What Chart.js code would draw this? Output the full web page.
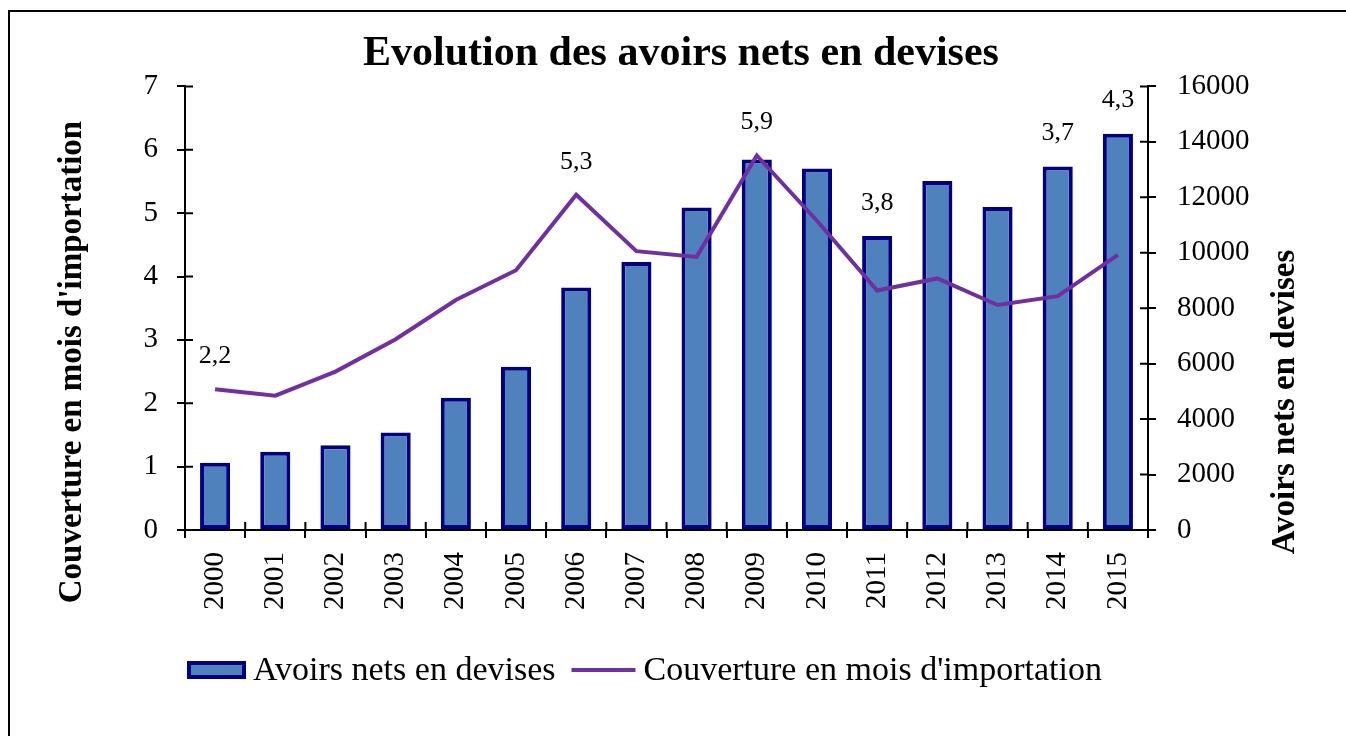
<!DOCTYPE html>
<html>
<head>
<meta charset="utf-8">
<script src="https://cdn.jsdelivr.net/npm/chart.js@4.4.0/dist/chart.umd.min.js"></script>
<style>
  html, body { margin: 0; padding: 0; background: #fff; }
  #wrap { width: 1346px; height: 736px; }
</style>
</head>
<body>
<div id="wrap"><canvas id="chart" width="1346" height="736"></canvas></div>
<script>
// data
const years = ['2000', '2001', '2002', '2003', '2004', '2005', '2006', '2007',
               '2008', '2009', '2010', '2011', '2012', '2013', '2014', '2015'];
const avoirs = [2425, 2820, 3060, 3520, 4770, 5885, 8745, 9670,
                11630, 13360, 13035, 10605, 12590, 11650, 13115, 14295];
const couverture = [2.22, 2.12, 2.50, 3.01, 3.63, 4.10, 5.29, 4.40,
                    4.31, 5.91, 4.88, 3.78, 3.97, 3.55, 3.69, 4.34];
const labelledYears = ['2000', '2006', '2009', '2011', '2014', '2015'];
const leftTicks = [0, 1, 2, 3, 4, 5, 6, 7];
const rightTicks = [0, 2000, 4000, 6000, 8000, 10000, 12000, 14000, 16000];

const serif = "'Liberation Serif', 'Times New Roman', serif";
const BAR_FILL = '#4F81BD';
const BAR_EDGE = '#000080';
const LINE_COL = '#7030A0';

// frame, inner tick halves, axis titles, value labels, legend
const decor = {
    id: 'decor',
    beforeDraw(chart) {
        const ctx = chart.ctx;
        ctx.save();
        ctx.fillStyle = '#fff';
        ctx.fillRect(0, 0, chart.width, chart.height);
        ctx.strokeStyle = '#000';
        ctx.lineWidth = 2;
        ctx.beginPath();
        ctx.moveTo(9, chart.height);
        ctx.lineTo(9, 11);
        ctx.lineTo(chart.width, 11);
        ctx.stroke();
        ctx.restore();
    },
    afterDatasetsDraw(chart) {
        const ctx = chart.ctx;
        const xs = chart.scales.x, yl = chart.scales.y, yr = chart.scales.y2;
        ctx.save();
        ctx.font = '26px ' + serif;
        ctx.fillStyle = '#000';
        ctx.textAlign = 'center';
        ctx.textBaseline = 'middle';
        labelledYears.forEach(yr_ => {
            const i = years.indexOf(yr_);
            const x = xs.getPixelForValue(i);
            const top = Math.min(yl.getPixelForValue(couverture[i]), yr.getPixelForValue(avoirs[i]));
            ctx.fillText(couverture[i].toFixed(1).replace('.', ','), x, top - 33);
        });
        ctx.restore();
    },
    afterDraw(chart) {
        const ctx = chart.ctx;
        const xs = chart.scales.x, yl = chart.scales.y, yr = chart.scales.y2;
        const area = chart.chartArea;
        ctx.save();
        ctx.strokeStyle = '#000';
        ctx.lineWidth = 2;
        ctx.beginPath();
        // inner halves of the crossing tick marks
        leftTicks.forEach(v => {
            const y = yl.getPixelForValue(v);
            ctx.moveTo(area.left, y); ctx.lineTo(area.left + 8, y);
        });
        rightTicks.forEach(v => {
            const y = yr.getPixelForValue(v);
            ctx.moveTo(area.right, y); ctx.lineTo(area.right - 8, y);
        });
        const step = xs.getPixelForValue(1) - xs.getPixelForValue(0);
        for (let i = 0; i <= years.length; i++) {
            const x = xs.getPixelForValue(0) - step / 2 + i * step;
            ctx.moveTo(x, area.bottom); ctx.lineTo(x, area.bottom - 8);
        }
        ctx.stroke();

        // axis titles, both read bottom to top
        ctx.fillStyle = '#000';
        ctx.font = 'bold 33px ' + serif;
        ctx.textAlign = 'center';
        ctx.textBaseline = 'middle';
        ctx.save();
        ctx.translate(72, 362);
        ctx.rotate(-Math.PI / 2);
        ctx.fillText("Couverture en mois d'importation", 0, 0);
        ctx.restore();
        ctx.save();
        ctx.translate(1285, 402);
        ctx.rotate(-Math.PI / 2);
        ctx.fillText('Avoirs nets en devises', 0, 0);
        ctx.restore();

        // legend
        const bar = chart.data.datasets[0], line = chart.data.datasets[1];
        ctx.font = '34px ' + serif;
        ctx.textAlign = 'left';
        const ly = 670;
        let x = 187;
        ctx.fillStyle = bar.backgroundColor;
        ctx.fillRect(x, ly - 9, 59, 18);
        ctx.strokeStyle = bar.borderColor;
        ctx.lineWidth = 4;
        ctx.strokeRect(x + 2, ly - 7, 55, 14);
        x += 66;
        ctx.fillStyle = '#000';
        ctx.fillText(bar.label, x, ly + 1);
        x += ctx.measureText(bar.label).width + 16;
        ctx.strokeStyle = line.borderColor;
        ctx.lineWidth = 4;
        ctx.beginPath();
        ctx.moveTo(x, ly); ctx.lineTo(x + 64, ly);
        ctx.stroke();
        x += 72;
        ctx.fillText(line.label, x, ly + 1);
        ctx.restore();
    }
};

const ctx = document.getElementById('chart').getContext('2d');
const chart = new Chart(ctx, {
    type: 'bar',
    data: {
        labels: years,
        datasets: [
            {
                type: 'bar',
                label: 'Avoirs nets en devises',
                data: avoirs,
                yAxisID: 'y2',
                backgroundColor: BAR_FILL,
                borderColor: BAR_EDGE,
                borderWidth: 4,
                borderSkipped: false,
                barPercentage: 0.5,
                categoryPercentage: 1,
                order: 1
            },
            {
                type: 'line',
                label: "Couverture en mois d'importation",
                data: couverture,
                yAxisID: 'y',
                borderColor: LINE_COL,
                backgroundColor: LINE_COL,
                borderWidth: 4,
                pointRadius: 0,
                tension: 0,
                fill: false,
                order: 0
            }
        ]
    },
    options: {
        responsive: false,
        animation: false,
        devicePixelRatio: 1,
        layout: { padding: { left: 16, right: 0, top: 0, bottom: 0 } },
        plugins: {
            legend: { display: false },
            tooltip: { enabled: false },
            title: {
                display: true,
                text: 'Evolution des avoirs nets en devises',
                color: '#000',
                font: { family: serif, size: 42, weight: 'bold', lineHeight: 1.2 },
                padding: { top: 29, bottom: 7 }
            }
        },
        scales: {
            x: {
                offset: true,
                grid: { display: true, drawOnChartArea: false, drawTicks: true, tickLength: 8, color: '#000', lineWidth: 2, offset: true },
                border: { display: true, color: '#000', width: 2 },
                ticks: {
                    color: '#000',
                    font: { family: serif, size: 29 },
                    autoSkip: false,
                    minRotation: 90,
                    maxRotation: 90,
                    padding: 14
                },
                afterFit(scale) { scale.height = 206; }
            },
            y: {
                position: 'left',
                min: 0,
                max: 7,
                grid: { display: true, drawOnChartArea: false, drawTicks: true, tickLength: 8, color: '#000', lineWidth: 2 },
                border: { display: true, color: '#000', width: 2 },
                ticks: {
                    stepSize: 1,
                    color: '#000',
                    font: { family: serif, size: 29 },
                    padding: 19
                },
                afterFit(scale) { scale.width = 169; }
            },
            y2: {
                position: 'right',
                min: 0,
                max: 16000,
                grid: { display: true, drawOnChartArea: false, drawTicks: true, tickLength: 8, color: '#000', lineWidth: 2 },
                border: { display: true, color: '#000', width: 2 },
                ticks: {
                    stepSize: 2000,
                    color: '#000',
                    font: { family: serif, size: 29 },
                    padding: 21,
                    callback: v => String(v)
                },
                afterFit(scale) { scale.width = 198; }
            }
        }
    },
    plugins: [decor]
});
</script>
</body>
</html>
